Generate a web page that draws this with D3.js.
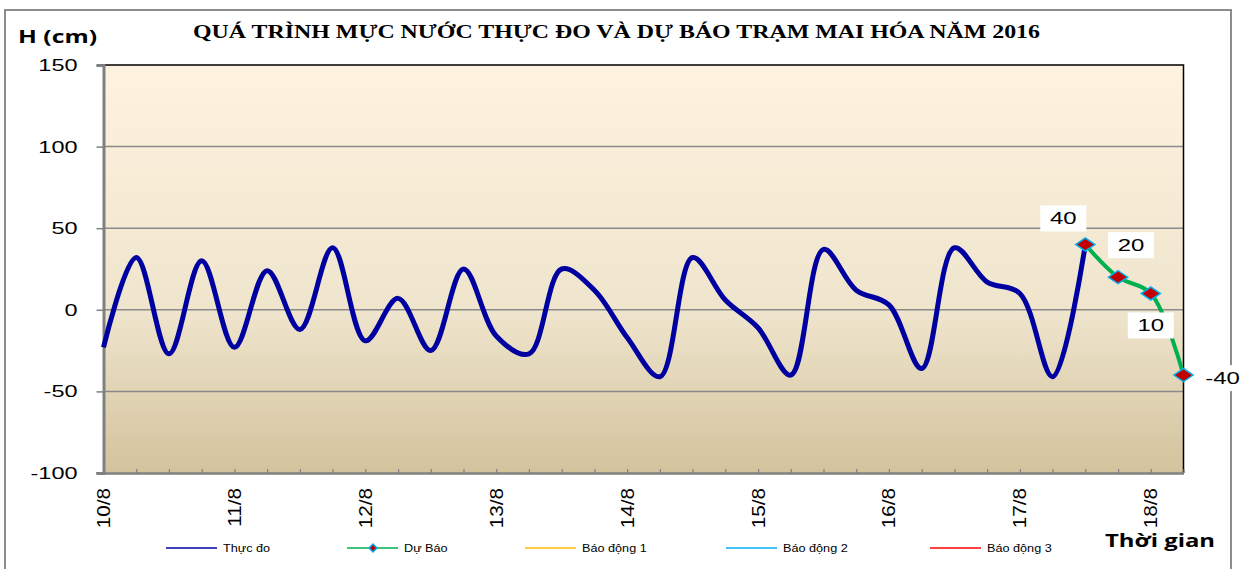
<!DOCTYPE html>
<html>
<head>
<meta charset="utf-8">
<script src="https://cdnjs.cloudflare.com/ajax/libs/d3/7.8.5/d3.min.js"></script>
<style>
  html, body { margin: 0; padding: 0; background: #fff; }
  svg { display: block; }
</style>
</head>
<body>
<svg id="chart" width="1240" height="569"></svg>
<script>
"use strict";

// days shown on the time axis, 4 readings per day
var days = ["10/8", "11/8", "12/8", "13/8", "14/8", "15/8", "16/8", "17/8", "18/8"];
var hours = ["1h", "7h", "13h", "19h"];

// observed water level (cm), one value per slot from 10/8 1h
var thucDo = [-23, 32, -27, 30, -23, 24, -12, 38, -19, 7, -25, 25, -16, -27, 25, 12,
    -17, -41, 32, 6, -11, -40, 37, 12, 3, -36, 38, 17, 10, -41, 40];
// forecast, starting at the last observed slot
var duBao = [40, 20, 10, -40];
var duBaoStart = 30;

var yTicks = [-100, -50, 0, 50, 100, 150];
var legendNames = ["Thực đo", "Dự Báo", "Báo động 1", "Báo động 2", "Báo động 3"];
var legendColors = ["#0000a0", "#00b050", "#ffc000", "#00b0f0", "#ff0000"];
// label offsets for the forecast value boxes
var labelOffsets = [[-22, -26], [13, -32], [0, 32], [39, 3]];

var categories = [];
days.forEach(function (d) {
    hours.forEach(function (h) { categories.push(d + " " + h); });
});
categories = categories.slice(0, duBaoStart + duBao.length);

var FONT = "Liberation Sans, Arial, sans-serif";

// the original picture has its text drawn wide, so widen glyphs a bit
function stretch(sel, k) {
    sel.each(function () {
        var w = this.getComputedTextLength();
        d3.select(this).attr("textLength", w * k).attr("lengthAdjust", "spacingAndGlyphs");
    });
}

var svg = d3.select("#chart");
var pLeft = 103.5, pRight = 1183.5, pTop = 65, pBottom = 473;

var x = d3.scalePoint().domain(d3.range(categories.length)).range([pLeft, pRight]);
var y = d3.scaleLinear().domain([-100, 150]).range([pBottom, pTop]);

// outer frame
svg.append("rect").attr("x", 5).attr("y", 10).attr("width", 1226).attr("height", 575)
    .attr("fill", "#fff").attr("stroke", "#8c8c8c").attr("stroke-width", 2);

// plot background gradient
var grad = svg.append("defs").append("linearGradient").attr("id", "bg")
    .attr("x1", 0).attr("y1", 0).attr("x2", 0).attr("y2", 1);
grad.append("stop").attr("offset", "0%").attr("stop-color", "#fef3df");
grad.append("stop").attr("offset", "60%").attr("stop-color", "#efe5cd");
grad.append("stop").attr("offset", "100%").attr("stop-color", "#d3c39d");
svg.append("rect").attr("x", pLeft).attr("y", pTop).attr("width", pRight - pLeft)
    .attr("height", pBottom - pTop).attr("fill", "url(#bg)");

// grid lines
svg.append("g").selectAll("line").data(yTicks.filter(function (t) { return t > -100 && t < 150; }))
    .enter().append("line")
    .attr("x1", pLeft).attr("x2", pRight)
    .attr("y1", function (d) { return y(d); }).attr("y2", function (d) { return y(d); })
    .attr("stroke", "#8a8a8a").attr("stroke-width", 1.5);

// plot border top / right
svg.append("path").attr("d", "M" + pLeft + "," + pTop + "H" + pRight + "V" + pBottom)
    .attr("fill", "none").attr("stroke", "#000").attr("stroke-width", 1.5);

// y axis
var yAxis = svg.append("g").attr("transform", "translate(" + pLeft + ",0)")
    .call(d3.axisLeft(y).tickValues(yTicks).tickSize(7).tickPadding(19)
        .tickFormat(function (d) { return String(d); }));
yAxis.select(".domain").attr("stroke", "#808080").attr("stroke-width", 3);
yAxis.selectAll(".tick line").attr("stroke", "#808080").attr("stroke-width", 1.5);
yAxis.selectAll("text").attr("font-family", FONT)
    .attr("font-size", 17).attr("fill", "#000").call(stretch, 1.38);

// x axis: tick every slot, label every day
var xAxis = svg.append("g").attr("transform", "translate(0," + pBottom + ")")
    .call(d3.axisBottom(x).tickSizeInner(-4).tickSizeOuter(0).tickFormat(""));
xAxis.select(".domain").attr("stroke", "#808080").attr("stroke-width", 2.5);
xAxis.selectAll(".tick line").attr("stroke", "#808080").attr("stroke-width", 1.2);
svg.append("line").attr("x1", 96).attr("x2", pLeft).attr("y1", pBottom).attr("y2", pBottom)
    .attr("stroke", "#808080").attr("stroke-width", 1.5);

svg.append("g").selectAll("text").data(days).enter().append("text")
    .attr("transform", function (d, i) {
        return "translate(" + (x(i * hours.length) + 6.5) + ",488) rotate(-90)";
    })
    .attr("text-anchor", "end")
    .attr("font-family", FONT).attr("font-size", 18)
    .attr("fill", "#000")
    .text(function (d) { return d; })
    .call(stretch, 1.15);

// observed line
var line = d3.line()
    .x(function (d) { return x(d.i); })
    .y(function (d) { return y(d.v); })
    .curve(d3.curveCatmullRom.alpha(0.5));

var obs = thucDo.map(function (v, i) { return { i: i, v: v }; });
var fc = duBao.map(function (v, i) { return { i: duBaoStart + i, v: v }; });

svg.append("path").attr("d", line(obs)).attr("fill", "none")
    .attr("stroke", "#0000a0").attr("stroke-width", 5).attr("stroke-linejoin", "round");
svg.append("path").attr("d", line(fc)).attr("fill", "none")
    .attr("stroke", "#00b050").attr("stroke-width", 4).attr("stroke-linejoin", "round");

var diamond = d3.symbol().type(d3.symbolDiamond2).size(150);
svg.append("g").selectAll("path").data(fc).enter().append("path")
    .attr("transform", function (d) { return "translate(" + x(d.i) + "," + y(d.v) + ") scale(1.25,0.85)"; })
    .attr("d", diamond)
    .attr("fill", "#c00000").attr("stroke", "#00b0f0").attr("stroke-width", 1.5);

// forecast value labels
var lbl = svg.append("g").selectAll("g").data(fc).enter().append("g")
    .attr("transform", function (d, i) {
        return "translate(" + (x(d.i) + labelOffsets[i][0]) + "," + (y(d.v) + labelOffsets[i][1]) + ")";
    });
lbl.append("rect").attr("x", -23).attr("y", -13).attr("width", 46).attr("height", 26).attr("fill", "#fff");
lbl.append("text").attr("text-anchor", "middle").attr("dy", "0.36em")
    .attr("font-family", FONT).attr("font-size", 16.5)
    .attr("fill", "#000")
    .text(function (d) { return d.v; })
    .call(stretch, 1.45);

// titles
svg.append("text").attr("x", 18).attr("y", 43)
    .attr("textLength", 79).attr("lengthAdjust", "spacingAndGlyphs")
    .attr("font-family", "Open Sans, Lato, sans-serif").attr("font-weight", "bold")
    .attr("font-size", 18).attr("fill", "#000").text("H (cm)");
svg.append("text").attr("x", 193).attr("y", 38)
    .attr("textLength", 847).attr("lengthAdjust", "spacingAndGlyphs")
    .attr("font-family", "Liberation Serif, Times New Roman, serif").attr("font-weight", "bold")
    .attr("font-size", 19).attr("fill", "#000")
    .text("QUÁ TRÌNH MỰC NƯỚC THỰC ĐO VÀ DỰ BÁO TRẠM MAI HÓA  NĂM 2016");
svg.append("text").attr("x", 1105).attr("y", 547)
    .attr("textLength", 110).attr("lengthAdjust", "spacingAndGlyphs")
    .attr("font-family", "Open Sans, Lato, sans-serif").attr("font-weight", "bold")
    .attr("font-size", 18).attr("fill", "#000").text("Thời gian");

// legend
var legendX = [166, 347, 525, 726, 930];
var leg = svg.append("g").selectAll("g").data(legendNames).enter().append("g")
    .attr("transform", function (d, i) { return "translate(" + legendX[i] + ",548)"; });
leg.append("line").attr("x1", 0).attr("x2", 51).attr("y1", 0).attr("y2", 0)
    .attr("stroke", function (d, i) { return legendColors[i]; }).attr("stroke-width", 1.5);
leg.filter(function (d, i) { return i === 1; }).append("path")
    .attr("transform", "translate(26,0)")
    .attr("d", d3.symbol().type(d3.symbolDiamond2).size(40))
    .attr("fill", "#c00000").attr("stroke", "#00b0f0").attr("stroke-width", 1.5);
leg.append("text").attr("x", 57).attr("dy", "0.35em")
    .attr("font-family", FONT).attr("font-size", 11)
    .attr("fill", "#000")
    .text(function (d) { return d; })
    .call(stretch, 1.15);
</script>
</body>
</html>
